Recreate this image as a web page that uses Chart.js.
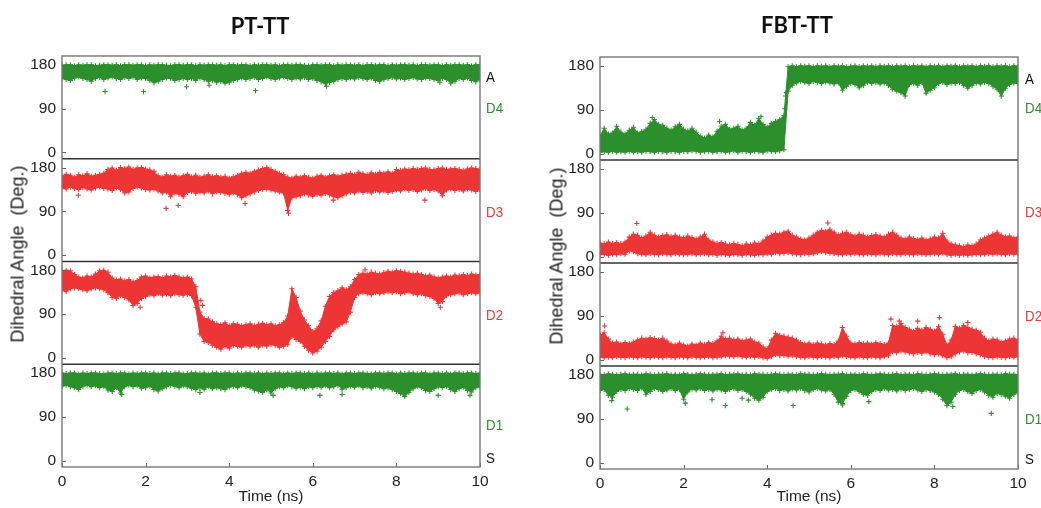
<!DOCTYPE html>
<html>
<head>
<meta charset="utf-8">
<title>Dihedral angles vs time</title>
<script src="https://cdn.jsdelivr.net/npm/chart.js@4.4.1/dist/chart.umd.min.js"></script>
<style>
  html, body { margin: 0; padding: 0; background: #fff; }
  #wrap { position: relative; width: 1041px; height: 508px; overflow: hidden;
          font-family: "Liberation Sans", Arial, sans-serif; }
  canvas { position: absolute; top: 0; }
  .ptitle { position: absolute; font-family: Lato, "Open Sans", sans-serif; font-weight: 700;
            font-size: 22px; color: #111; transform: translate(-50%, -50%); white-space: nowrap; }
  .ytitle { position: absolute; font-size: 18px; color: #222; white-space: nowrap;
            transform: translate(-50%, -50%) rotate(-90deg); }
  .side { position: absolute; font-size: 15.5px; white-space: nowrap;
          transform-origin: 0 50%; transform: translateY(-50%) scaleX(0.86); }
</style>
</head>
<body>
<div id="wrap">
  <canvas id="ptCanvas" width="520" height="508" style="left:0px"></canvas>
  <canvas id="fbtCanvas" width="501" height="508" style="left:540px"></canvas>

  <div class="ptitle" style="left:260px; top:25px">PT-TT</div>
  <div class="ptitle" style="left:797px; top:23.5px">FBT-TT</div>

  <div class="ytitle" style="left:18px; top:254px">Dihedral Angle&nbsp;&nbsp;(Deg.)</div>
  <div class="ytitle" style="left:557px; top:256px">Dihedral Angle&nbsp;&nbsp;(Deg.)</div>

  <div class="side" style="left:486px; top:77px; color:#111">A</div>
  <div class="side" style="left:486px; top:108px; color:#2f8f2f">D4</div>
  <div class="side" style="left:486px; top:212px; color:#e83a3a">D3</div>
  <div class="side" style="left:486px; top:315px; color:#e83a3a">D2</div>
  <div class="side" style="left:486px; top:425px; color:#2f8f2f">D1</div>
  <div class="side" style="left:486px; top:458px; color:#111">S</div>

  <div class="side" style="left:1025px; top:79px; color:#111">A</div>
  <div class="side" style="left:1025px; top:108px; color:#2f8f2f">D4</div>
  <div class="side" style="left:1025px; top:212px; color:#e83a3a">D3</div>
  <div class="side" style="left:1025px; top:316px; color:#e83a3a">D2</div>
  <div class="side" style="left:1025px; top:419px; color:#2f8f2f">D1</div>
  <div class="side" style="left:1025px; top:459px; color:#111">S</div>
</div>

<script>
// Sampling: each envelope array holds one value every 0.1 ns from 0 to 10 ns (101 samples).
const timeStep = 0.1;
const timeTicks = [0, 2, 4, 6, 8, 10];
const angleTicks = [0, 90, 180];

// ---------- PT-TT ----------
// Upper / lower edge of the sampled dihedral cloud, plus isolated frames outside it.
const ptD4Hi = [
  179,180,180,178,180,179,180,180,178,179,
  180,180,179,180,178,180,180,179,180,180,
  178,180,179,180,180,179,178,180,180,179,
  180,180,178,180,179,180,180,179,180,178,
  180,180,179,180,180,178,180,179,180,180,
  179,180,178,180,180,179,180,180,179,178,
  180,180,179,180,180,178,180,179,180,180,
  179,180,178,180,180,179,180,180,178,180,
  179,180,180,179,180,178,180,180,179,180,
  180,178,180,179,180,180,179,180,178,180,
  180];
const ptD4Lo = [
  152,150,148,153,155,152,150,146,152,154,
  150,153,155,152,150,154,152,155,150,153,
  152,148,143,146,150,153,152,148,150,152,
  150,152,148,153,150,146,148,144,146,142,
  144,148,150,153,150,152,154,150,152,155,
  152,150,153,155,152,150,153,151,154,150,
  152,148,145,141,144,146,150,152,150,153,
  151,154,152,150,153,148,146,150,152,154,
  151,153,150,152,154,151,150,153,152,150,
  148,152,150,142,146,152,150,153,148,145,
  150];
const ptD4Extra = [[1.03,125],[1.95,125],[2.98,135],[4.63,127],[9.04,144],[3.52,138],[6.33,136]];

const ptD3Hi = [
  162,166,164,160,165,163,167,162,164,166,
  168,176,179,174,180,178,181,176,179,180,
  177,175,172,163,160,165,162,164,160,163,
  166,161,164,160,162,165,161,163,160,162,
  158,161,164,168,170,168,172,175,178,180,
  176,172,168,165,160,158,162,160,163,160,
  158,162,164,160,163,165,162,164,166,168,
  165,170,167,165,169,166,170,168,171,168,
  176,174,177,175,178,176,178,179,176,175,
  178,179,176,177,178,176,174,177,179,178,
  176];
const ptD3Lo = [
  138,136,140,137,135,139,136,134,138,140,
  137,136,133,138,135,128,130,137,140,138,
  135,134,136,132,128,130,120,128,125,120,
  129,131,127,130,128,132,126,130,129,127,
  125,128,124,118,122,126,130,133,135,136,
  134,132,130,128,92,118,120,122,126,124,
  121,125,123,127,124,120,118,122,126,130,
  128,132,129,131,128,133,130,132,129,131,
  134,132,136,133,135,131,134,137,133,135,
  132,122,134,136,133,135,132,136,134,131,
  135];
const ptD3Extra = [[2.49,96],[2.78,102],[4.38,106],[5.42,86],[6.49,113],[8.68,113],[0.39,123]];

const ptD2Hi = [
  179,180,179,171,166,164,168,166,172,179,
  180,176,164,160,162,158,161,156,159,166,
  168,164,166,167,164,168,166,169,166,164,
  166,162,146,94,81,80,74,70,68,72,
  66,70,69,66,68,70,66,69,71,68,
  70,66,68,72,86,142,124,96,78,66,
  54,60,76,106,126,134,138,144,140,146,
  161,171,174,172,176,174,172,175,178,176,
  179,178,176,174,172,174,171,168,170,166,
  164,166,168,166,170,168,171,169,172,170,
  171];
const ptD2Lo = [
  139,136,142,144,142,140,138,142,144,142,
  140,134,124,122,128,124,119,108,112,122,
  126,130,128,132,129,131,128,132,130,129,
  131,128,104,49,34,32,26,22,18,24,
  20,26,24,22,26,24,26,22,26,24,
  28,26,22,24,28,44,38,34,24,16,
  10,14,22,34,44,58,64,70,74,94,
  124,132,134,132,130,134,132,134,136,134,
  136,132,134,136,132,130,132,128,126,122,
  112,116,128,130,132,134,130,132,134,132,
  134];
const ptD2Extra = [[7.25,181],[9.05,104],[3.32,118],[3.36,108],[1.87,104]];

const ptD1Hi = [
  180,179,180,180,178,180,179,180,180,179,
  178,180,180,179,180,180,178,180,179,180,
  180,179,180,178,180,180,179,180,180,178,
  179,180,180,179,180,178,180,180,179,180,
  180,178,180,179,180,180,179,180,178,180,
  179,180,180,178,180,179,180,180,179,180,
  178,180,179,180,180,179,180,178,180,180,
  179,180,180,179,178,180,180,179,180,180,
  178,180,179,180,180,179,180,180,178,180,
  180,179,180,178,180,180,179,180,180,179,
  180];
const ptD1Lo = [
  153,155,152,150,146,153,155,152,154,150,
  152,145,142,150,139,152,155,152,154,149,
  150,153,146,143,148,152,155,153,150,154,
  152,149,146,150,147,152,148,150,148,146,
  151,153,150,154,152,150,145,143,140,146,
  139,148,152,150,154,152,149,151,148,152,
  150,153,151,154,150,152,155,147,150,153,
  151,154,150,152,149,153,151,148,150,146,
  142,138,132,140,148,152,150,144,142,148,
  152,150,153,146,142,148,151,144,141,150,
  152];
const ptD1Extra = [[1.43,136],[5.05,134],[6.17,134],[6.7,136],[9.0,134],[9.76,134],[3.3,140]];

// ---------- FBT-TT ----------
const fbtD4Hi = [
  36,52,40,42,56,44,40,48,54,42,
  45,50,62,70,60,58,52,48,55,60,
  50,46,52,44,36,32,38,34,46,56,
  60,50,52,56,48,52,64,58,72,60,
  54,62,66,70,78,178,180,178,180,179,
  180,178,180,179,180,178,180,179,180,178,
  179,180,178,180,179,180,178,180,179,180,
  178,180,179,180,178,180,179,180,178,180,
  179,180,178,180,179,180,178,180,179,180,
  178,180,179,180,178,180,179,180,178,180,
  179];
const fbtD4Lo = [
  3,4,3,5,3,4,3,5,3,4,
  3,5,4,3,5,4,3,5,4,3,
  5,4,6,5,3,4,5,3,4,5,
  3,4,6,3,5,4,3,5,4,3,
  6,5,4,6,8,128,140,145,148,146,
  144,148,146,144,147,145,143,145,130,138,
  144,142,135,140,146,144,146,143,145,140,
  132,128,125,118,142,144,140,146,124,130,
  135,144,146,142,145,144,146,140,134,140,
  145,143,146,144,138,132,118,134,142,145,
  144];
const fbtD4Extra = [[1.25,74],[3.85,76],[2.86,66],[4.44,118],[4.46,125],[4.42,92]];

const fbtD3Hi = [
  28,26,30,27,29,26,30,40,46,44,
  38,42,50,44,40,43,45,41,44,40,
  38,42,39,36,40,46,34,30,27,29,
  26,24,27,25,22,26,24,28,26,32,
  40,44,48,46,50,52,44,40,36,34,
  38,44,50,54,52,56,50,44,48,50,
  45,42,46,44,40,43,45,42,40,46,
  50,44,38,36,40,37,35,38,34,36,
  40,38,48,32,26,24,22,20,24,22,
  26,34,38,42,46,50,44,40,42,38,
  40];
const fbtD3Lo = [
  4,5,3,5,4,6,5,12,10,6,
  5,4,6,5,4,6,5,4,6,5,
  4,5,6,4,5,6,4,5,3,5,
  4,3,5,4,3,5,4,3,5,4,
  6,5,8,6,7,8,6,5,4,6,
  5,6,8,10,8,7,6,5,4,6,
  5,6,5,4,6,5,4,6,5,4,
  6,5,4,6,5,4,6,5,4,5,
  6,5,7,4,3,4,3,4,3,4,
  5,4,5,6,5,6,5,4,6,5,
  6];
const fbtD3Extra = [[0.88,68],[5.45,69]];

const fbtD2Hi = [
  50,55,42,34,36,32,35,33,36,40,
  44,42,45,43,40,44,38,32,30,34,
  30,28,32,30,34,31,35,33,38,48,
  42,44,40,42,38,40,42,36,34,26,
  22,40,54,50,48,46,44,40,35,32,
  34,31,34,32,30,33,31,38,66,48,
  34,32,35,33,34,32,35,33,31,34,
  70,68,74,66,62,58,64,60,66,62,
  58,68,52,30,40,68,64,70,66,62,
  60,56,44,38,42,40,36,38,42,44,
  40];
const fbtD2Lo = [
  5,4,5,4,6,5,4,6,5,4,
  6,5,4,6,5,4,6,5,4,6,
  5,4,6,5,4,5,6,4,5,6,
  8,7,6,8,6,5,7,5,6,4,
  3,6,10,8,9,7,8,6,5,4,
  6,5,4,6,5,4,6,5,8,6,
  5,4,6,5,4,6,5,4,6,8,
  16,14,18,16,14,12,15,13,16,12,
  10,12,8,4,6,12,16,18,14,15,
  12,10,6,5,4,6,5,4,6,5,
  6];
const fbtD2Extra = [[0.11,69],[6.96,83],[7.16,79],[7.6,79],[8.12,86],[8.8,76],[2.94,55]];

const fbtD1Hi = [
  181,180,182,181,180,181,182,180,181,181,
  180,182,181,180,181,181,182,180,181,180,
  182,181,180,181,182,181,180,181,181,182,
  180,181,181,182,180,181,180,182,181,181,
  180,181,182,181,180,181,181,180,182,181,
  181,180,181,182,181,180,181,181,182,180,
  181,181,180,182,181,180,181,182,181,180,
  181,182,180,181,181,180,182,181,180,181,
  182,181,180,181,181,182,180,181,181,180,
  181,182,181,180,181,181,180,182,181,181,
  180];
const fbtD1Lo = [
  148,150,138,134,146,150,148,152,150,148,
  153,140,146,152,150,146,149,152,148,150,
  130,145,151,149,152,148,150,147,151,149,
  146,150,152,148,150,146,140,132,128,134,
  146,150,152,148,150,147,151,149,152,148,
  145,150,152,149,147,150,140,124,121,136,
  148,150,146,140,138,146,150,148,152,149,
  150,147,151,148,150,152,149,146,150,148,
  145,140,130,117,124,140,148,150,146,142,
  148,150,145,138,134,142,140,136,132,140,
  144];
const fbtD1Extra = [[0.28,127],[0.65,110],[2.04,122],[2.68,129],[3.0,117],[3.4,132],
                    [4.62,117],[5.8,118],[6.43,125],[8.44,115],[9.36,101],[3.55,128]];

// ---------- drawing ----------
const GREEN = '#2b8f2b';
const RED = '#ee3535';
const FONT = '"Liberation Sans", Arial, sans-serif';

const toPoints = arr => arr.map((v, i) => ({ x: Math.round(i * timeStep * 100) / 100, y: v }));

// One trace = upper edge (filled down to the lower edge), lower edge, isolated frames.
function traceDatasets(hi, lo, extra, color, axisId) {
  const common = {
    yAxisID: axisId,
    borderColor: color,
    backgroundColor: color,
    pointStyle: 'cross',
    pointRadius: 2.6,
    pointBorderWidth: 1.1,
    pointBorderColor: color,
    pointBackgroundColor: color,
    borderWidth: 1,
    tension: 0
  };
  return [
    Object.assign({}, common, { data: toPoints(hi), fill: '+1' }),
    Object.assign({}, common, { data: toPoints(lo), fill: false }),
    Object.assign({}, common, { data: extra.map(([x, y]) => ({ x, y })), showLine: false, fill: false })
  ];
}

// Frame, row separators and inward tick marks.
const panelFrame = {
  id: 'panelFrame',
  afterDraw(chart) {
    const { ctx, chartArea: a } = chart;
    const yScales = Object.values(chart.scales).filter(s => s.axis === 'y');
    ctx.save();
    ctx.strokeStyle = '#666';
    ctx.lineWidth = 1;
    yScales.forEach(s => {
      s.ticks.forEach(t => {
        const y = Math.round(s.getPixelForValue(t.value)) + 0.5;
        ctx.beginPath(); ctx.moveTo(a.left, y); ctx.lineTo(a.left + 4, y); ctx.stroke();
      });
    });
    const xs = chart.scales.x;
    xs.ticks.forEach(t => {
      const x = Math.round(xs.getPixelForValue(t.value)) + 0.5;
      ctx.beginPath(); ctx.moveTo(x, a.bottom); ctx.lineTo(x, a.bottom - 4); ctx.stroke();
    });
    ctx.strokeStyle = '#333';
    ctx.lineWidth = 1.6;
    yScales.forEach(s => {
      if (s.top > a.top + 2) {
        ctx.beginPath(); ctx.moveTo(a.left, s.top); ctx.lineTo(a.right, s.top); ctx.stroke();
      }
    });
    ctx.strokeStyle = '#777';
    ctx.lineWidth = 1.4;
    ctx.strokeRect(a.left, a.top, a.right - a.left, a.bottom - a.top);
    ctx.restore();
  }
};

function angleScale() {
  return {
    type: 'linear', position: 'left', stack: 'rows', stackWeight: 1,
    min: -13, max: 198,
    grid: { display: false, drawTicks: false },
    border: { display: false },
    ticks: { padding: 6, color: '#222', font: { family: FONT, size: 15.5 } },
    afterBuildTicks: s => { s.ticks = angleTicks.map(v => ({ value: v })); },
    afterFit: s => { s.width = 40; }
  };
}

function timeScale(height) {
  return {
    type: 'linear', position: 'bottom', min: 0, max: 10,
    grid: { display: false, drawTicks: false },
    border: { display: false },
    ticks: { padding: 5, color: '#222', maxRotation: 0, autoSkip: false, font: { family: FONT, size: 15.5 } },
    afterBuildTicks: s => { s.ticks = timeTicks.map(v => ({ value: v })); },
    title: { display: true, text: 'Time (ns)', color: '#222', font: { family: FONT, size: 15.5 },
             padding: { top: 0, bottom: 2 } },
    afterFit: s => { s.height = height; }
  };
}

function makePanel(canvasId, rows, padding, xHeight) {
  const datasets = [];
  rows.forEach(r => datasets.push(...traceDatasets(r.hi, r.lo, r.extra, r.color, r.axis)));
  // stacked rows are laid out top-down from the last listed scale
  const scales = { yD1: angleScale(), yD2: angleScale(), yD3: angleScale(), yD4: angleScale(), x: timeScale(xHeight) };
  new Chart(document.getElementById(canvasId), {
    type: 'line',
    data: { datasets },
    options: {
      responsive: false,
      animation: false,
      devicePixelRatio: 1,
      events: [],
      layout: { padding },
      plugins: { legend: { display: false }, tooltip: { enabled: false } },
      scales
    },
    plugins: [panelFrame]
  });
}

makePanel('ptCanvas', [
  { hi: ptD4Hi, lo: ptD4Lo, extra: ptD4Extra, color: GREEN, axis: 'yD4' },
  { hi: ptD3Hi, lo: ptD3Lo, extra: ptD3Extra, color: RED, axis: 'yD3' },
  { hi: ptD2Hi, lo: ptD2Lo, extra: ptD2Extra, color: RED, axis: 'yD2' },
  { hi: ptD1Hi, lo: ptD1Lo, extra: ptD1Extra, color: GREEN, axis: 'yD1' }
], { left: 22, right: 40, top: 56, bottom: 0 }, 41);

makePanel('fbtCanvas', [
  { hi: fbtD4Hi, lo: fbtD4Lo, extra: fbtD4Extra, color: GREEN, axis: 'yD4' },
  { hi: fbtD3Hi, lo: fbtD3Lo, extra: fbtD3Extra, color: RED, axis: 'yD3' },
  { hi: fbtD2Hi, lo: fbtD2Lo, extra: fbtD2Extra, color: RED, axis: 'yD2' },
  { hi: fbtD1Hi, lo: fbtD1Lo, extra: fbtD1Extra, color: GREEN, axis: 'yD1' }
], { left: 20, right: 23, top: 57, bottom: 0 }, 39);
</script>
</body>
</html>
